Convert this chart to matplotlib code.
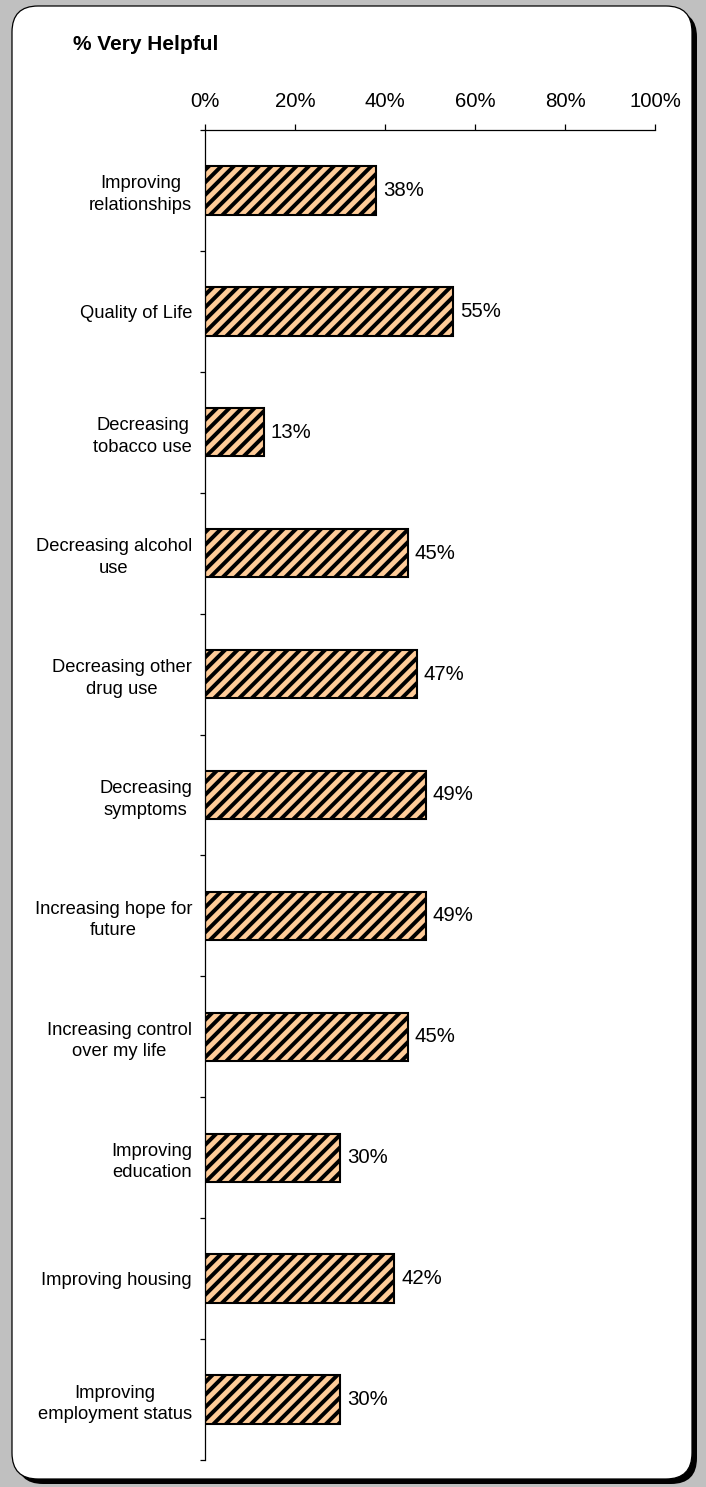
import numpy as np
import matplotlib
matplotlib.use('Agg')
import matplotlib.pyplot as plt
from matplotlib.patches import FancyBboxPatch
from matplotlib.transforms import IdentityTransform

plt.rcParams['font.family'] = ['Liberation Sans', 'DejaVu Sans']
plt.rcParams['hatch.linewidth'] = 1.9

categories = ['Improving\nrelationships', 'Quality of Life', 'Decreasing\ntobacco use',
              'Decreasing alcohol\nuse', 'Decreasing other\ndrug use', 'Decreasing\nsymptoms',
              'Increasing hope for\nfuture', 'Increasing control\nover my life',
              'Improving\neducation', 'Improving housing', 'Improving\nemployment status']
values = [38, 55, 13, 45, 47, 49, 49, 45, 30, 42, 30]
xticks = [0, 20, 40, 60, 80, 100]

W, H, DPI = 706, 1487, 150
fig = plt.figure(figsize=(W / DPI, H / DPI), dpi=DPI, facecolor='#C0C0C0')

# rounded white panel with a black drop shadow (pixel coords)
shadow = FancyBboxPatch((17, 3), 680, 1473, boxstyle='round,pad=0,rounding_size=26',
                        transform=IdentityTransform(), fc='black', ec='none', zorder=-3)
panel = FancyBboxPatch((12, 8), 680, 1473, boxstyle='round,pad=0,rounding_size=26',
                       transform=IdentityTransform(), fc='white', ec='black', lw=0.6, zorder=-2)
fig.patches.extend([shadow, panel])

ax = fig.add_axes([205 / W, 1 - 1460 / H, 450 / W, 1330 / H])
ax.patch.set_visible(False)
n = len(values)
y = np.arange(n)
ax.barh(y, values, height=0.4, color='#FFCC99', edgecolor='black', linewidth=1.0, hatch='////')

ax.set_xlim(0, 100)
ax.set_ylim(n - 0.5, -0.5)
ax.xaxis.tick_top()
ax.set_xticks(xticks)
ax.set_xticklabels([f'{t}%' for t in xticks])
ax.tick_params(axis='x', direction='out', length=3, width=0.6, labelsize=9.8, pad=6)

ax.set_yticks(y)
ax.set_yticklabels(categories)
ax.set_yticks(np.arange(n + 1) - 0.5, minor=True)
ax.tick_params(axis='y', which='major', length=0, labelsize=8.8, pad=6.2)
ax.tick_params(axis='y', which='minor', direction='out', length=2.5, width=0.6)
for lab in ax.get_yticklabels():
    lab.set_multialignment('center')
    lab.set_linespacing(1.35)

for s in ['right', 'bottom']:
    ax.spines[s].set_visible(False)
for s in ['top', 'left']:
    ax.spines[s].set_linewidth(0.6)

for i, v in enumerate(values):
    ax.annotate(f'{v}%', (v, i), xytext=(3.5, 0), textcoords='offset points',
                va='center', ha='left', fontsize=9.8)

fig.text(73 / W, 1 - 45 / H, '% Very Helpful', fontsize=10, fontweight='bold', va='center')

fig.savefig('out.png', dpi=DPI, facecolor=fig.get_facecolor())
